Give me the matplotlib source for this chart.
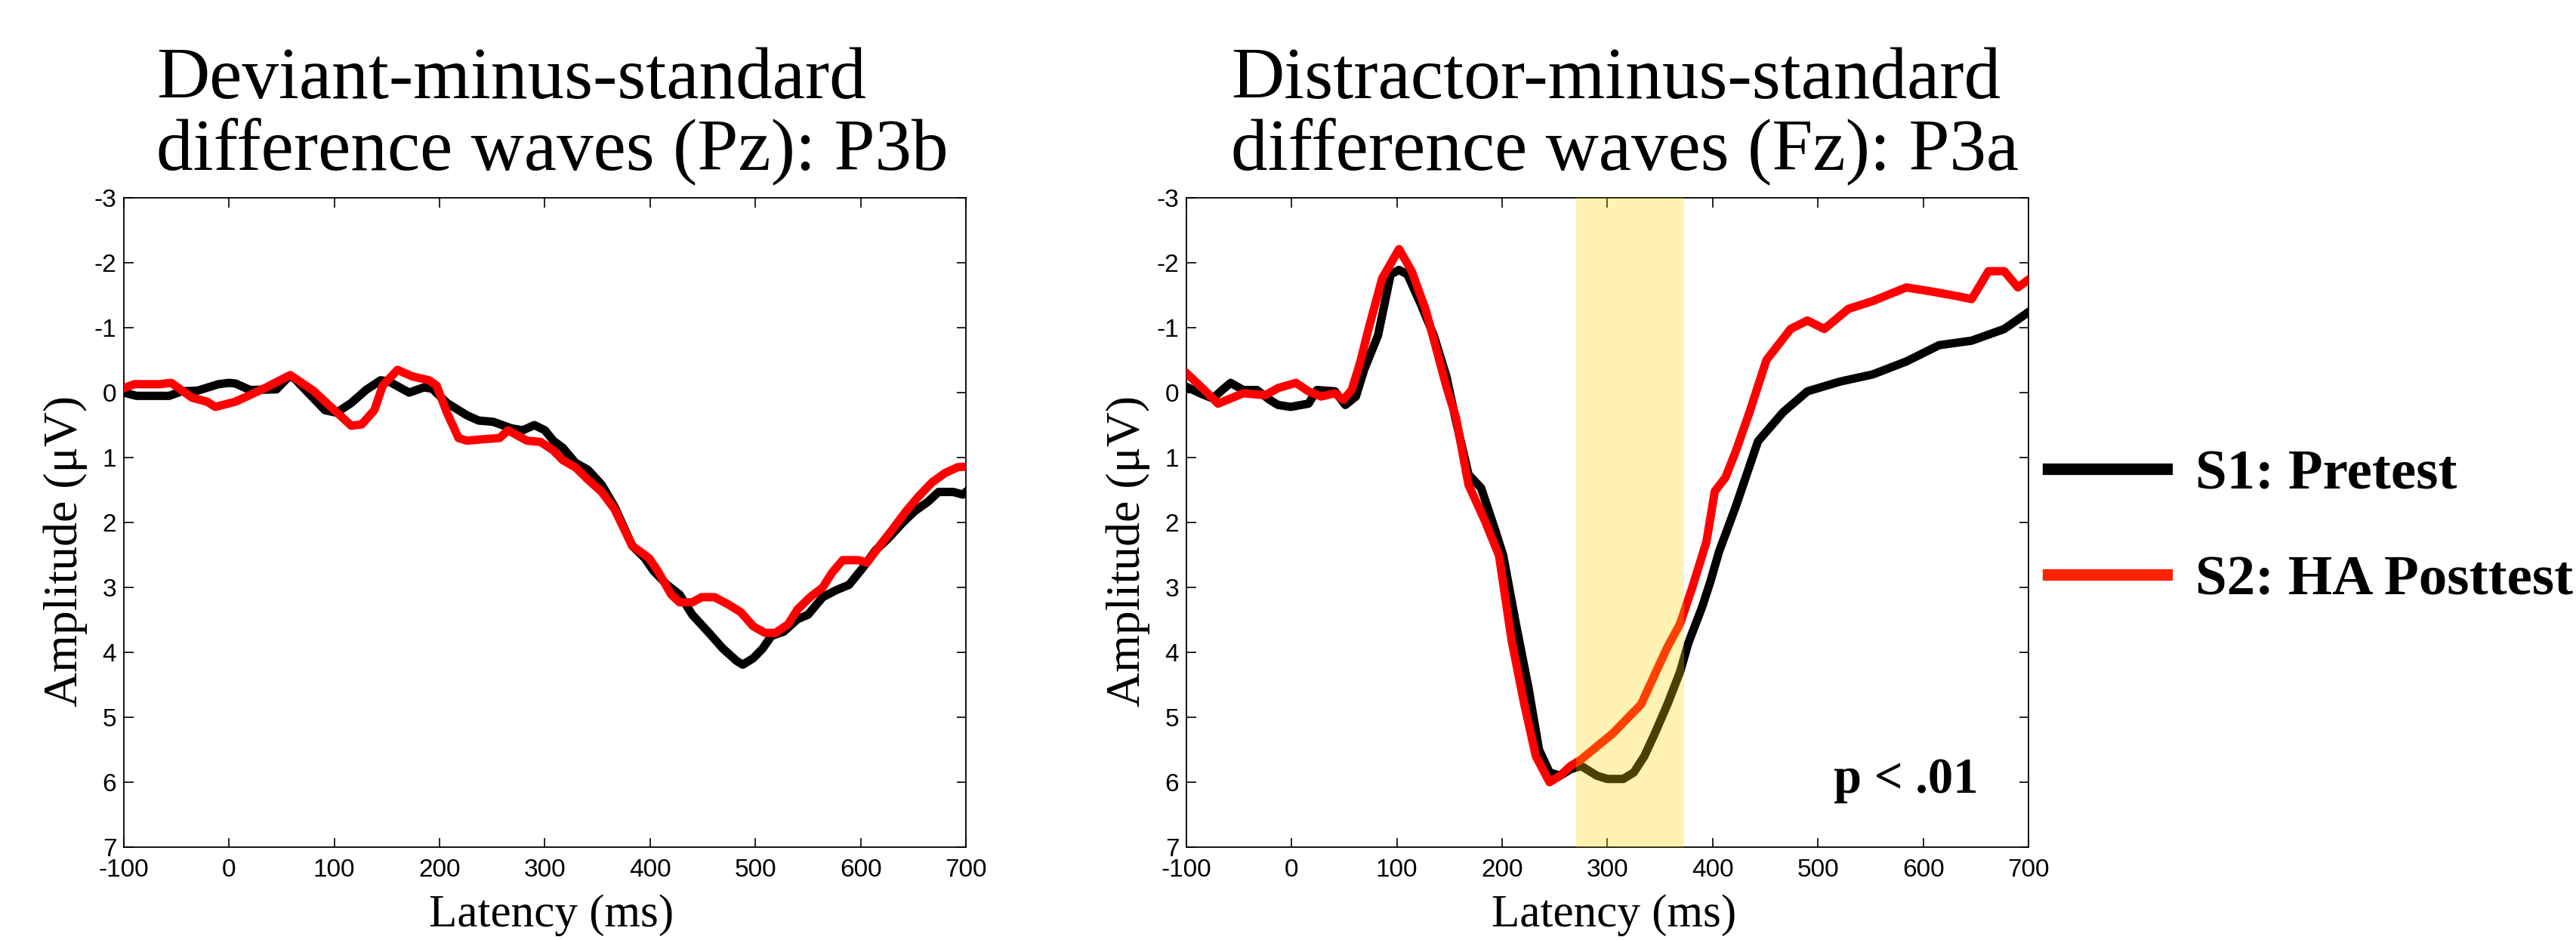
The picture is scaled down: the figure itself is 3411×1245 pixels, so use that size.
import matplotlib
matplotlib.use("Agg")
import matplotlib.pyplot as plt
from matplotlib.lines import Line2D
from matplotlib.font_manager import fontManager

# ---------------- data ----------------
xticks = [-100, 0, 100, 200, 300, 400, 500, 600, 700]
yticks = [-3, -2, -1, 0, 1, 2, 3, 4, 5, 6, 7]

titles_left = ["Deviant-minus-standard", "difference waves (Pz): P3b"]
titles_right = ["Distractor-minus-standard", "difference waves (Fz): P3a"]
series_names = ["S1: Pretest", "S2: HA Posttest"]
p_text = "p < .01"
shade_span = [270, 373]

# P3b (Pz) panel
p3b_s1_t = [-100, -88, -57, -45, -30, -10, 0, 6, 20, 45, 57, 62, 75, 91, 102, 116, 130, 144,
            152, 171, 185, 193, 207, 226, 237, 251, 268, 279, 290, 300, 308, 317, 329, 341,
            354, 366, 383, 395, 403, 416, 428, 440, 457, 469, 482, 488, 498, 507, 515, 527,
            540, 550, 564, 577, 589, 602, 614, 626, 639, 651, 664, 674, 688, 697, 700]
p3b_s1_v = [0.0, 0.05, 0.05, -0.02, -0.03, -0.13, -0.15, -0.14, -0.04, -0.05, -0.25, -0.22,
            0.0, 0.27, 0.31, 0.16, -0.04, -0.19, -0.17, 0.0, -0.08, -0.06, 0.16, 0.35, 0.43,
            0.45, 0.55, 0.58, 0.50, 0.58, 0.74, 0.85, 1.08, 1.19, 1.42, 1.75, 2.36, 2.55, 2.74,
            2.96, 3.11, 3.42, 3.72, 3.94, 4.13, 4.19, 4.09, 3.94, 3.75, 3.68, 3.49, 3.42, 3.15,
            3.04, 2.96, 2.70, 2.43, 2.25, 2.02, 1.83, 1.68, 1.53, 1.53, 1.57, 1.53]
p3b_s2_t = [-100, -90, -66, -55, -35, -21, -13, 6, 34, 58, 80, 94, 116, 126, 138, 146, 160,
            174, 190, 197, 207, 218, 226, 240, 257, 265, 283, 296, 308, 317, 329, 341, 354,
            366, 383, 399, 407, 420, 428, 440, 449, 461, 474, 486, 498, 509, 519, 531, 540,
            552, 564, 573, 583, 598, 606, 618, 631, 643, 655, 668, 680, 692, 700]
p3b_s2_v = [-0.07, -0.13, -0.13, -0.15, 0.08, 0.14, 0.22, 0.14, -0.07, -0.27, -0.03, 0.18,
            0.51, 0.49, 0.27, -0.11, -0.35, -0.25, -0.19, -0.11, 0.31, 0.70, 0.74, 0.72, 0.70,
            0.58, 0.74, 0.76, 0.89, 1.04, 1.15, 1.34, 1.53, 1.79, 2.36, 2.55, 2.74, 3.11, 3.23,
            3.23, 3.15, 3.15, 3.26, 3.38, 3.60, 3.70, 3.70, 3.57, 3.34, 3.15, 3.00, 2.77, 2.58,
            2.58, 2.62, 2.36, 2.09, 1.83, 1.60, 1.38, 1.24, 1.15, 1.14]

# P3a (Fz) panel
p3a_s1_t = [-100, -87, -75, -66, -58, -46, -33, -21, -13, -1, 16, 24, 41, 51, 61, 69, 82, 94,
            102, 110, 123, 135, 147, 156, 168, 180, 193, 201, 213, 225, 235, 245, 255, 265,
            275, 290, 300, 315, 325, 335, 345, 357, 369, 377, 390, 398, 406, 422, 443, 467,
            490, 521, 552, 584, 615, 646, 677, 700]
p3a_s1_v = [-0.09, 0.01, 0.09, -0.04, -0.15, -0.04, -0.04, 0.11, 0.19, 0.22, 0.17, -0.04,
            -0.02, 0.19, 0.06, -0.36, -0.88, -1.82, -1.89, -1.82, -1.35, -0.88, -0.25, 0.43,
            1.26, 1.47, 2.10, 2.51, 3.56, 4.55, 5.5, 5.85, 5.9, 5.8, 5.75, 5.9, 5.95, 5.95,
            5.85, 5.6, 5.25, 4.8, 4.3, 3.85, 3.3, 2.9, 2.45, 1.75, 0.75, 0.3, -0.02,
            -0.17, -0.28, -0.48, -0.73, -0.8, -0.98, -1.24]
p3a_s2_t = [-100, -83, -70, -58, -46, -25, -13, 4, 16, 28, 41, 49, 57, 65, 73, 86, 102, 114,
            127, 135, 147, 156, 168, 184, 197, 209, 221, 232, 245, 255, 265, 275, 290, 305,
            320, 332, 345, 357, 369, 381, 394, 402, 412, 422, 435, 451, 474, 490, 506, 529,
            552, 584, 607, 631, 646, 662, 677, 690, 700]
p3a_s2_v = [-0.30, -0.04, 0.17, 0.09, 0.01, 0.04, -0.07, -0.15, -0.02, 0.06, 0.01, 0.11,
            -0.04, -0.46, -0.98, -1.76, -2.21, -1.87, -1.29, -0.82, -0.09, 0.38, 1.42, 1.99,
            2.51, 3.82, 4.80, 5.6, 6.0, 5.9, 5.75, 5.65, 5.45, 5.25, 5.0, 4.8, 4.34, 3.92,
            3.56, 2.98, 2.3, 1.52, 1.31, 0.9, 0.3, -0.5, -0.98, -1.11, -0.98, -1.29, -1.41,
            -1.62, -1.56, -1.49, -1.44, -1.87, -1.87, -1.62, -1.74]

# ---------------- style ----------------
W, H = 3412, 1245
DPI = 100
names = {f.name for f in fontManager.ttflist}
tick_family = ["Liberation Sans Narrow"] if "Liberation Sans Narrow" in names else ["Liberation Sans"]
serif = ["Liberation Serif", "DejaVu Serif"]

c_s1 = "#000000"
c_s2 = "#FF0000"
c_s2_leg = "#FF2200"
lw = 8

fig = plt.figure(figsize=(W / DPI, H / DPI), dpi=DPI)

def px_to_fig(x, y):
    return x / W, 1 - y / H

ax_w = 1115 / W
ax_h = 860 / H
ax_b = 1 - 1122 / H
axL = fig.add_axes([164 / W, ax_b, ax_w, ax_h])
axR = fig.add_axes([1571 / W, ax_b, ax_w, ax_h])

def style(ax):
    ax.set_xlim(-100, 700)
    ax.set_ylim(7, -3)
    ax.set_xticks(xticks)
    ax.set_yticks(yticks)
    ax.set_xticklabels([str(v) for v in xticks], family=tick_family, fontsize=24)
    ax.set_yticklabels([str(v) for v in yticks], family=tick_family, fontsize=24)
    ax.tick_params(direction="in", length=9, width=1.2, top=True, right=True,
                   colors="black")
    ax.tick_params(axis="x", pad=11)
    ax.tick_params(axis="y", pad=7)
    for s in ax.spines.values():
        s.set_linewidth(1.3)
        s.set_color("black")
    ax.set_ylabel("Amplitude (μV)", family=serif, fontsize=46, va="center")
    ax.yaxis.set_label_coords(-0.069, 0.456)
    ax.set_xlabel("Latency (ms)", family=serif, fontsize=44, va="center")
    ax.xaxis.set_label_coords(0.508, -0.105)

style(axL)
style(axR)

axL.plot(p3b_s1_t, p3b_s1_v, color=c_s1, lw=lw, solid_joinstyle="round", zorder=3)
axL.plot(p3b_s2_t, p3b_s2_v, color=c_s2, lw=lw, solid_joinstyle="round", zorder=4)
axR.plot(p3a_s1_t, p3a_s1_v, color=c_s1, lw=lw, solid_joinstyle="round", zorder=3)
axR.plot(p3a_s2_t, p3a_s2_v, color=c_s2, lw=lw, solid_joinstyle="round", zorder=4)

# shaded window drawn over the lines (semi-transparent)
axR.axvspan(shade_span[0], shade_span[1], facecolor="#FFD700", alpha=0.3, lw=0, zorder=5)

axR.text(652, 6.16, p_text, family=serif, fontweight="bold", fontsize=48,
         ha="right", va="baseline", zorder=6)

# titles
for ln, base in zip(titles_left, [130, 224]):
    x, y = px_to_fig(207, base)
    fig.text(x, y, ln, family=serif, fontsize=70, ha="left", va="baseline")
for ln, base in zip(titles_right, [130, 224]):
    x, y = px_to_fig(1630, base)
    fig.text(x, y, ln, family=serif, fontsize=70, ha="left", va="baseline")

# legend
handles = [Line2D([0], [0], color=c_s1, lw=11), Line2D([0], [0], color=c_s2_leg, lw=11)]
leg = fig.legend(handles, series_names, loc="center left",
                 bbox_to_anchor=(2712 / W, 1 - 699 / H), frameon=False,
                 prop={"family": serif, "weight": "bold", "size": 54},
                 handlelength=2.1, handletextpad=0.5, labelspacing=0.95,
                 borderpad=0, borderaxespad=0)

fig.savefig("out.png", dpi=DPI)
